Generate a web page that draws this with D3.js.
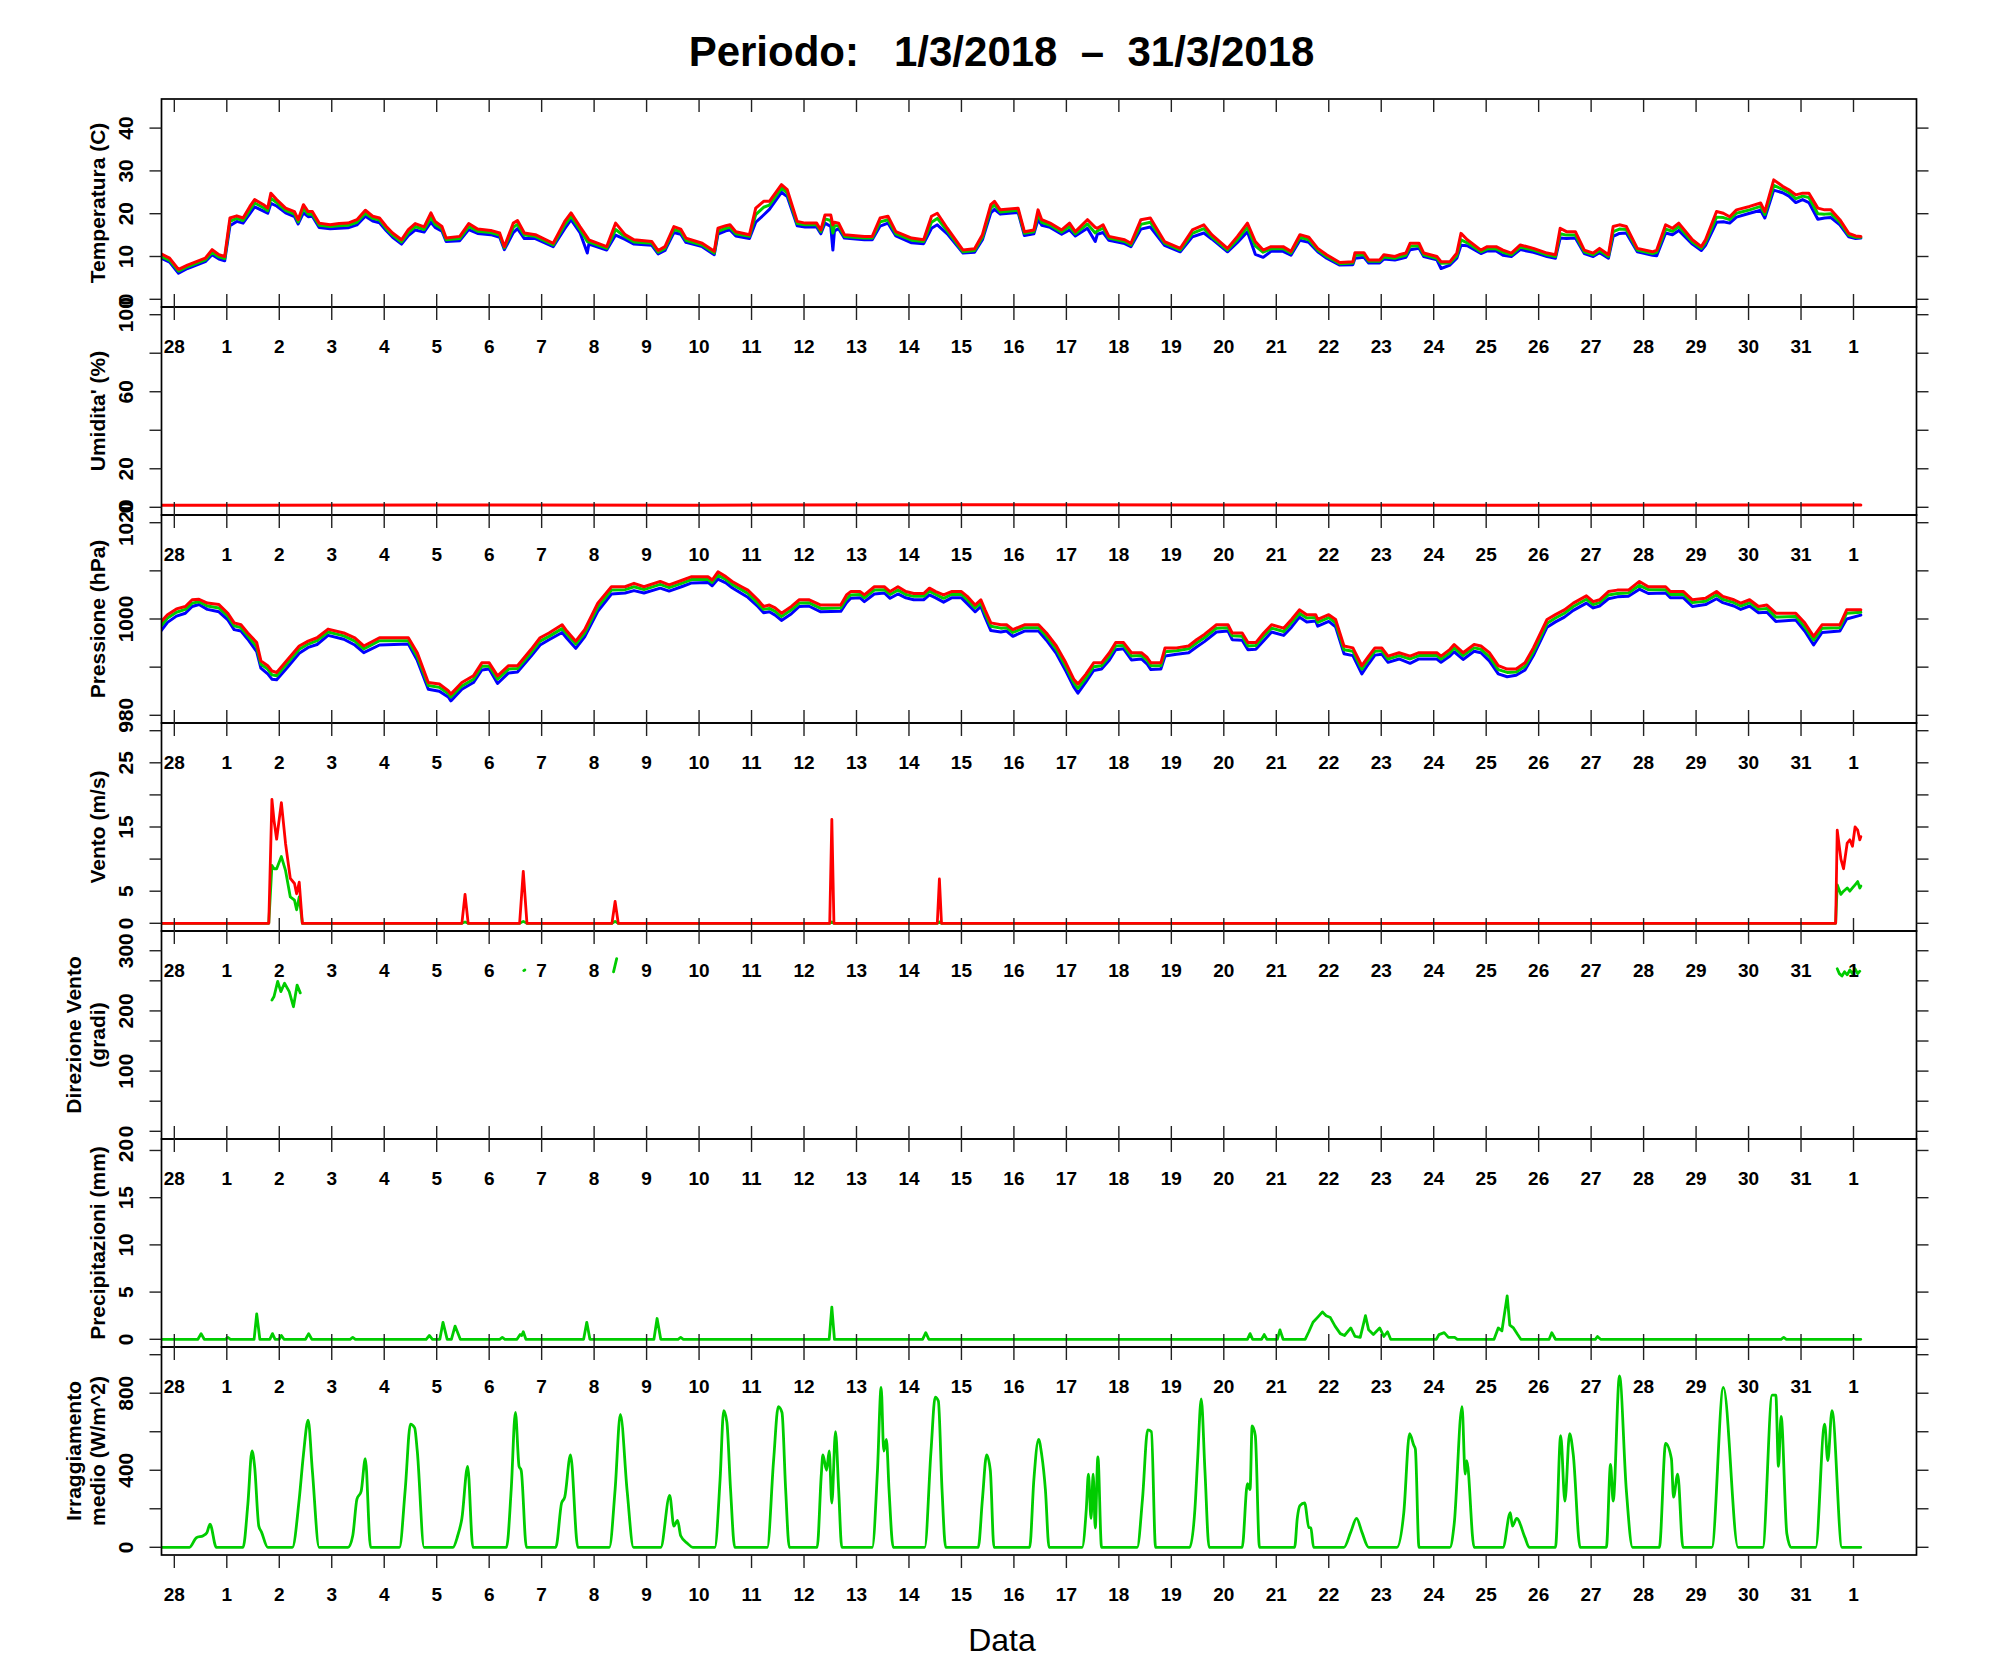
<!DOCTYPE html>
<html><head><meta charset="utf-8">
<script src="https://cdn.jsdelivr.net/npm/d3@7"></script>
<style>
body{margin:0;background:#fff}
svg text{font-family:"Liberation Sans",Arial,Helvetica,sans-serif}
</style></head><body>
<svg id="c" width="1991" height="1680"></svg>
<script>
// ================= DATA (time in days since 1 March 00:00) =================
const dayTicks = d3.range(-1, 32);
const dayLabels = ["28","1","2","3","4","5","6","7","8","9","10","11","12","13","14","15","16","17","18","19","20","21","22","23","24","25","26","27","28","29","30","31","1"];

// --- Temperature (C) ---
const tempTime = [
-1.25,-1.09,-0.92,-0.75,-0.58,-0.41,-0.28,-0.15,-0.04,
0.06,0.19,0.31,0.44,0.53,0.70,0.78,0.84,0.95,
1.12,1.29,1.36,1.46,1.55,1.63,1.76,1.97,
2.14,2.31,2.48,2.64,2.78,2.91,
3.04,3.16,3.33,3.46,3.59,3.76,3.89,3.97,
4.10,4.18,4.44,4.61,4.78,
5.03,5.20,5.29,5.46,5.54,5.67,5.88,
6.22,6.44,6.56,6.73,6.87,6.90,
7.24,7.41,7.59,7.76,
8.10,8.22,8.35,8.52,8.65,8.75,
9.06,9.29,9.36,9.51,9.59,9.70,9.96,
10.08,10.23,10.34,10.57,10.68,10.87,
11.02,11.24,11.32,11.40,11.51,11.55,11.58,11.66,11.77,
12.15,12.30,12.45,12.60,12.75,
13.05,13.28,13.43,13.54,13.73,
14.03,14.25,14.40,14.56,14.63,14.74,
15.08,15.20,15.38,15.46,15.53,15.69,15.91,
16.06,16.17,16.40,16.55,16.59,16.70,16.81,
17.11,17.23,17.42,17.60,17.87,
18.17,18.40,18.62,18.77,
19.07,19.26,19.45,19.60,19.75,19.90,
20.13,20.28,20.45,20.62,20.79,20.96,
21.21,21.46,21.50,21.67,21.76,21.97,
22.05,22.26,22.34,22.47,22.55,22.72,22.81,
23.06,23.14,23.31,23.44,23.52,23.64,23.90,
24.02,24.19,24.32,24.48,24.65,24.90,
25.16,25.32,25.41,25.53,25.70,25.87,
26.04,26.16,26.33,26.42,26.54,26.67,26.88,
27.17,27.25,27.42,27.55,27.67,27.93,
28.10,28.18,28.39,28.52,28.64,28.77,
29.02,29.23,29.31,29.48,29.65,29.77,29.90,
30.03,30.15,30.32,30.45,30.57,30.74,30.91,
31.04,31.14];
const tempMax = [
10.6,9.6,7.0,8.0,8.8,9.6,11.6,10.4,10.0,
19.0,19.5,19.0,21.7,23.3,22.1,21.3,24.8,23.3,
21.3,20.5,18.6,22.1,20.5,20.5,17.8,17.4,
17.7,17.8,18.6,20.8,19.4,19.0,
17.0,15.5,13.9,16.3,17.7,16.9,20.2,18.2,
17.0,14.3,14.7,17.7,16.4,
16.1,15.5,12.3,17.8,18.4,15.5,15.1,
13.1,18.2,20.2,17.0,14.5,13.9,
12.3,17.8,15.1,13.9,
13.5,11.4,12.3,17.0,16.4,14.3,
13.1,11.2,16.6,17.2,17.4,15.8,15.1,
21.3,22.9,22.9,26.8,25.6,18.2,
17.8,17.8,16.2,19.7,19.7,17.4,18.0,17.8,15.1,
14.7,14.7,19.0,19.4,15.8,
14.3,13.9,19.4,20.1,16.6,
11.5,11.8,15.1,22.1,22.9,20.9,
21.3,15.8,16.2,20.9,18.6,17.8,16.2,
17.8,15.8,18.6,16.8,16.6,17.4,14.7,
13.9,13.1,18.6,19.0,13.5,
11.9,16.2,17.4,15.1,
11.9,14.7,17.8,13.5,11.5,12.3,
12.3,11.2,15.1,14.5,11.9,10.4,
8.6,8.8,10.9,10.9,9.2,9.2,
10.4,10.0,10.4,10.8,13.1,13.1,10.8,
10.0,8.8,8.8,10.8,15.4,13.9,11.5,
12.3,12.3,11.5,10.8,12.7,11.9,
10.8,10.4,16.6,15.8,15.8,11.5,
10.8,11.9,10.4,17.0,17.4,17.0,11.9,
11.1,11.5,17.4,16.6,17.8,13.9,
12.3,13.9,20.5,20.1,19.3,20.9,
21.7,22.5,20.5,27.9,26.4,25.6,24.4,
24.8,24.8,21.3,20.9,20.9,18.6,15.4,
14.8,14.7];
const tempMean = [
10.0,9.1,6.6,7.6,8.4,9.2,11.0,9.9,9.5,
18.2,18.9,18.4,20.9,22.5,21.4,20.7,23.6,22.6,
20.8,19.9,18.1,21.2,19.9,19.9,17.3,17.0,
17.2,17.3,18.0,20.1,18.9,18.5,
16.5,15.0,13.4,15.6,17.0,16.3,19.1,17.5,
16.5,13.9,14.2,17.0,15.9,
15.6,15.0,12.0,16.8,17.5,15.0,14.7,
12.7,17.4,19.4,16.3,13.5,13.4,
11.9,16.3,14.6,13.4,
13.1,11.0,11.9,16.3,15.8,13.8,
12.7,10.8,15.9,16.6,16.8,15.3,14.7,
19.8,21.5,22.0,26.0,24.9,17.7,
17.4,17.4,15.8,18.8,18.4,15.5,17.2,17.2,14.7,
14.3,14.3,18.1,18.6,15.3,
13.8,13.5,18.0,18.9,16.0,
11.1,11.4,14.5,21.3,22.0,20.4,
20.8,15.4,15.8,19.9,18.0,17.3,15.7,
17.0,15.3,17.6,15.5,16.0,16.6,14.3,
13.5,12.7,17.5,18.0,13.1,
11.5,15.4,16.5,14.6,
11.5,14.0,16.8,12.5,11.0,11.8,
11.8,10.8,14.5,13.9,11.5,10.0,
8.3,8.5,10.3,10.4,8.9,8.9,
9.9,9.6,9.9,10.3,12.4,12.5,10.4,
9.6,8.4,8.5,10.2,13.9,13.2,11.1,
11.8,11.8,11.0,10.4,12.2,11.5,
10.4,10.0,15.3,15.0,15.0,11.1,
10.4,11.4,10.0,15.8,16.4,16.3,11.5,
10.7,11.0,16.4,15.9,17.0,13.4,
11.9,13.3,19.2,19.1,18.6,20.1,
20.9,21.7,19.8,26.6,25.7,24.9,23.5,
24.1,23.8,20.0,19.9,20.0,18.0,15.0,
14.5,14.5];
const tempMin = [
9.6,8.7,6.1,7.2,8.0,8.8,10.4,9.4,9.0,
17.2,18.2,17.8,20.0,21.6,20.6,20.1,22.4,21.8,
20.2,19.3,17.6,20.2,19.3,19.4,16.8,16.5,
16.6,16.7,17.4,19.4,18.3,17.9,
16.0,14.5,12.9,14.9,16.2,15.7,18.0,16.8,
15.9,13.5,13.7,16.3,15.4,
15.1,14.5,11.6,15.6,16.5,14.2,14.2,
12.3,16.5,18.6,15.6,10.8,12.9,
11.5,15.0,14.0,12.9,
12.6,10.6,11.4,15.6,15.2,13.3,
12.3,10.4,15.2,16.0,16.2,14.8,14.2,
18.0,19.7,21.0,25.0,24.0,17.2,
16.9,16.9,15.3,17.8,17.0,11.5,16.0,16.5,14.3,
13.9,13.9,17.1,17.8,14.8,
13.2,13.0,16.6,17.4,15.3,
10.8,11.0,13.9,20.2,21.0,19.9,
20.3,14.9,15.3,18.6,17.3,16.8,15.2,
16.2,14.8,16.6,13.5,15.2,15.6,13.8,
13.0,12.3,16.4,16.9,12.6,
11.1,14.6,15.5,14.1,
11.1,13.3,15.8,10.5,9.8,11.2,
11.2,10.3,13.8,13.3,11.1,9.6,
8.0,8.1,9.6,9.8,8.5,8.5,
9.4,9.2,9.4,9.8,11.6,11.9,10.0,
9.2,7.2,8.0,9.6,12.6,12.5,10.7,
11.3,11.3,10.3,10.0,11.6,11.0,
10.0,9.6,14.3,14.2,14.3,10.7,
10.0,10.9,9.6,14.7,15.4,15.5,11.1,
10.3,10.2,15.5,15.1,16.1,12.9,
11.4,12.6,18.0,18.1,17.8,19.2,
20.1,20.8,19.0,25.5,24.9,24.1,22.6,
23.3,22.6,18.7,19.0,19.1,17.4,14.6,
14.2,14.3];

// --- Humidity (%) ---
const humTime = [-1.25, 4.0, 9.0, 14.0, 19.0, 24.0, 29.0, 31.14];
const humMax  = [1.0, 1.2, 1.1, 1.3, 1.2, 1.1, 1.2, 1.2];

// --- Pressure (hPa) ---
const presTime = [
-1.25,-1.13,-0.96,-0.79,-0.66,-0.53,-0.37,-0.15,
0.02,0.14,0.27,0.40,0.57,0.65,0.78,0.86,0.95,
1.12,1.38,1.55,1.72,1.93,
2.23,2.44,2.61,2.91,
3.46,3.63,3.84,
4.05,4.22,4.27,4.48,4.70,4.86,
5.00,5.16,5.37,5.54,5.80,5.97,
6.14,6.39,6.48,6.65,6.82,
7.07,7.33,7.59,7.76,7.95,
8.26,8.43,8.69,8.86,
9.17,9.25,9.36,9.51,9.63,9.81,9.93,
10.12,10.23,10.34,10.45,10.57,10.76,10.91,
11.09,11.32,11.70,11.81,11.89,
12.07,12.15,12.34,12.53,12.64,12.79,12.94,
13.09,13.28,13.39,13.51,13.66,13.81,
14.00,14.11,14.26,14.37,14.45,14.56,14.75,14.86,14.98,
15.20,15.47,15.62,15.81,15.99,
16.14,16.22,16.37,16.52,16.67,16.82,16.94,
17.09,17.24,17.43,17.54,17.61,17.80,17.88,
18.10,18.33,18.48,18.63,18.86,
19.08,19.16,19.35,19.46,19.61,19.76,19.91,
20.14,20.29,20.44,20.58,20.75,20.79,
21.00,21.13,21.29,21.46,21.63,21.76,21.88,
22.01,22.13,22.34,22.55,22.72,
23.06,23.14,23.31,23.39,23.56,23.77,23.90,
24.06,24.23,24.40,24.57,24.74,24.90,
25.16,25.32,25.49,25.66,25.91,
26.04,26.16,26.33,26.50,26.71,26.92,
27.09,27.42,27.51,27.76,27.93,
28.18,28.39,28.51,28.72,28.85,
29.02,29.19,29.35,29.52,29.90,
30.07,30.24,30.40,30.74,30.87,
31.14];
const presMax = [
999.5,1000.9,1002.1,1002.6,1004.0,1004.1,1003.3,1003.0,
1001.2,999.2,998.8,997.1,995.1,991.3,990.3,989.2,988.9,
991.1,994.4,995.4,996.1,997.9,
997.1,996.1,994.4,996.1,
996.1,993.0,986.8,
986.5,985.1,984.4,986.8,988.2,990.9,
990.9,988.2,990.3,990.3,993.7,996.1,
997.1,998.8,997.5,995.4,997.8,
1003.3,1006.7,1006.7,1007.4,1006.7,
1007.8,1007.1,1008.1,1008.8,
1008.8,1008.1,1009.8,1008.8,1007.8,1006.7,1006.0,
1004.0,1002.6,1002.9,1002.3,1001.2,1002.6,1004.0,
1004.0,1002.9,1002.9,1005.0,1005.7,
1005.7,1005.0,1006.7,1006.7,1005.7,1006.7,1005.7,
1005.3,1005.3,1006.4,1005.7,1005.0,1005.7,
1005.7,1004.7,1002.9,1004.0,1001.9,999.2,998.8,998.8,997.8,
998.8,998.8,997.1,994.4,990.9,
987.5,986.5,988.5,990.9,990.9,993.0,995.1,
995.1,993.0,993.0,992.0,990.9,990.9,994.0,
994.0,994.4,995.7,996.8,998.8,
998.8,997.1,997.1,995.1,995.1,997.1,998.8,
998.1,999.9,1001.9,1000.9,1000.9,999.9,
1000.9,999.9,994.4,994.0,990.3,992.3,994.0,
994.0,992.3,993.0,992.3,993.0,
993.0,992.3,993.7,994.7,993.0,994.7,994.4,
993.0,990.3,989.6,989.6,990.9,994.0,
999.9,1000.9,1001.9,1003.3,1004.8,
1003.6,1004.0,1005.7,1006.0,1006.0,1007.8,
1006.7,1006.7,1005.7,1005.7,1004.0,
1004.3,1005.7,1004.7,1004.0,1003.3,
1004.0,1002.6,1002.9,1001.2,1001.2,
999.2,996.4,998.8,998.8,1001.9,
1001.9];
const presMean = [
998.6,1000.2,1001.4,1002.0,1003.3,1003.6,1002.7,1002.3,
1000.6,998.6,998.2,996.5,994.2,990.6,989.6,988.4,988.2,
990.4,993.7,994.8,995.5,997.3,
996.5,995.4,993.8,995.5,
995.5,992.2,986.2,
985.8,984.5,983.8,986.1,987.5,990.2,
990.2,987.5,989.6,989.7,993.0,995.4,
996.4,998.0,996.9,994.8,997.1,
1002.5,1006.0,1006.1,1006.7,1006.1,
1007.2,1006.5,1007.5,1008.2,
1008.2,1007.6,1009.1,1008.2,1007.2,1006.1,1005.3,
1003.3,1002.0,1002.2,1001.6,1000.5,1001.9,1003.3,
1003.4,1002.2,1002.3,1004.2,1005.0,
1005.1,1004.4,1006.0,1006.1,1005.1,1006.0,1005.1,
1004.7,1004.7,1005.8,1005.1,1004.3,1005.1,
1005.1,1004.0,1002.3,1003.3,1001.2,998.5,998.1,998.2,997.2,
998.2,998.2,996.4,993.7,990.1,
986.8,985.6,987.7,990.1,990.3,992.3,994.4,
994.5,992.3,992.4,991.4,990.3,990.3,993.2,
993.4,993.8,995.0,996.1,998.1,
998.2,996.5,996.4,994.4,994.5,996.4,998.1,
997.4,999.2,1001.2,1000.2,1000.3,999.3,
1000.3,999.2,993.6,993.3,989.6,991.6,993.3,
993.4,991.7,992.4,991.7,992.4,
992.4,991.7,993.0,994.0,992.4,994.0,993.7,
992.2,989.5,988.9,989.0,990.2,993.2,
999.1,1000.2,1001.2,1002.6,1004.1,
1003.0,1003.4,1005.0,1005.3,1005.4,1007.0,
1006.1,1006.1,1005.1,1005.1,1003.4,
1003.7,1005.0,1004.1,1003.4,1002.7,
1003.4,1002.0,1002.2,1000.4,1000.5,
998.4,995.6,998.1,998.2,1001.2,
1001.4];
const presMin = [
997.6,999.3,1000.6,1001.2,1002.6,1003.0,1002.0,1001.5,
999.8,997.8,997.5,995.8,993.2,989.8,988.6,987.5,987.4,
989.5,992.9,994.1,994.7,996.6,
995.8,994.6,993.0,994.6,
994.8,991.4,985.4,
985.0,983.8,983.0,985.4,986.8,989.4,
989.6,986.6,988.8,989.0,992.3,994.6,
995.7,997.2,996.0,993.9,996.3,
1001.6,1005.2,1005.4,1005.9,1005.4,
1006.4,1005.8,1006.8,1007.5,
1007.6,1006.9,1008.3,1007.5,1006.5,1005.3,1004.5,
1002.6,1001.3,1001.5,1000.8,999.7,1001.1,1002.6,
1002.7,1001.5,1001.6,1003.4,1004.3,
1004.4,1003.6,1005.2,1005.4,1004.3,1005.2,1004.4,
1004.0,1004.0,1005.0,1004.4,1003.5,1004.4,
1004.4,1003.2,1001.5,1002.6,1000.4,997.6,997.3,997.5,996.4,
997.5,997.5,995.6,992.8,989.2,
985.9,984.6,986.9,989.3,989.6,991.5,993.6,
993.8,991.5,991.7,990.6,989.5,989.6,992.3,
992.7,993.0,994.2,995.3,997.3,
997.5,995.7,995.6,993.6,993.7,995.5,997.3,
996.6,998.3,1000.4,999.4,999.6,998.5,
999.5,998.4,992.8,992.4,988.6,990.7,992.5,
992.7,991.0,991.7,990.8,991.7,
991.7,991.0,992.3,993.2,991.6,993.3,993.0,
991.3,988.6,988.0,988.3,989.4,992.4,
998.3,999.4,1000.4,1001.8,1003.3,
1002.3,1002.7,1004.2,1004.6,1004.7,1006.2,
1005.3,1005.4,1004.4,1004.4,1002.6,
1003.0,1004.2,1003.4,1002.7,1002.0,
1002.7,1001.3,1001.4,999.5,999.8,
997.5,994.6,997.2,997.5,1000.0,
1000.8];

// --- Wind speed (m/s) ---
const windTime = [-1.25,0.80,0.86,0.90,0.95,1.04,1.12,1.21,1.29,1.33,1.38,1.44,1.48,
4.48,4.54,4.60,5.58,5.65,5.72,7.34,7.40,7.46,11.49,11.53,11.57,13.54,13.58,13.62,
30.66,30.69,30.76,30.81,30.88,30.93,30.98,31.03,31.08,31.12,31.14];
const windGust = [0,0,19.3,16.0,13.1,18.8,12.4,7.0,6.2,4.6,6.4,0,0,
0,4.5,0,0,8.1,0,0,3.4,0,0,16.2,0,0,6.9,0,
0,14.5,10.0,8.5,12.5,13.0,12.0,15.0,14.5,13.0,13.5];
const windMean = [0,0,9.0,8.5,8.5,10.4,8.2,4.1,3.6,2.1,4.1,0,0,
0,0.2,0,0,0.3,0,0,0.3,0,0,0.2,0,0,0.2,0,
0,6.0,4.5,5.0,5.5,5.0,5.5,6.0,6.5,5.5,5.8];

// --- Wind direction (degrees); null = no data ---
const dirTime = [0.86,0.90,0.97,1.03,1.10,1.19,1.27,1.34,1.40,1.45,
5.66,5.68,5.70, 7.37,7.43,7.46,
30.69,30.73,30.78,30.83,30.88,30.93,30.98,31.03,31.08,31.12];
const dirValue = [218,224,249,232,246,232,207,243,230,null,
267,268,null, 265,287,null,
270,262,258,265,260,268,262,270,262,266];

// --- Precipitation (mm) ---
const rainTime = [-1.25,-0.55,-0.49,-0.43,-0.03,0.02,0.07,0.52,0.57,0.63,0.82,0.87,0.92,1.00,1.04,1.09,
1.50,1.56,1.62,2.35,2.40,2.45,3.80,3.86,3.92,4.06,4.12,4.20,4.28,4.35,4.45,
5.20,5.25,5.30,5.53,5.59,5.62,5.65,5.70,6.80,6.86,6.92,8.14,8.20,8.27,8.60,8.65,8.70,
11.48,11.53,11.58,13.26,13.32,13.38,
19.45,19.50,19.55,19.72,19.77,19.82,20.02,20.07,20.13,
20.55,20.62,20.70,20.80,20.88,20.95,21.03,21.12,21.22,21.30,21.42,21.50,21.60,21.70,21.76,21.85,21.97,22.05,22.12,22.18,
23.05,23.10,23.20,23.28,23.40,23.45,
24.15,24.23,24.30,24.40,24.45,24.52,24.60,24.66,
25.20,25.25,25.32,26.08,26.12,26.18,29.62,29.67,29.72,31.14];
const rainValue = [0,0,0.6,0,0,0.2,0,0,2.7,0,0,0.6,0,0,0.4,0,
0,0.6,0,0,0.2,0,0,0.4,0,0,1.8,0,0,1.4,0,
0,0.2,0,0,0.5,0.4,0.8,0,0,1.8,0,0,2.2,0,0,0.2,0,
0,3.4,0,0,0.7,0,
0,0.6,0,0,0.5,0,0,1.0,0,
0,0.8,1.8,2.4,2.9,2.5,2.3,1.4,0.6,0.4,1.2,0.3,0.2,2.5,1.0,0.5,1.2,0.3,0.8,0,
0,0.5,0.7,0.2,0.2,0,
0,1.2,0.9,4.6,1.5,1.2,0.5,0,
0,0.7,0,0,0.3,0,0,0.2,0,0];

// --- Mean irradiance (W/m^2) ---
const sunTime = [-1.25,-0.71,-0.58,-0.45,-0.38,-0.32,-0.20,
0.31,0.40,0.48,0.53,0.61,0.66,0.78,
1.25,1.38,1.46,1.55,1.63,1.76,
2.31,2.40,2.48,2.56,2.64,2.74,
3.29,3.40,3.50,3.58,3.63,3.76,
4.31,4.40,4.48,4.59,4.69,
5.33,5.42,5.50,5.57,5.61,5.71,
6.27,6.38,6.44,6.55,6.69,
7.29,7.40,7.50,7.63,7.75,
8.27,8.44,8.52,8.59,8.65,8.78,8.88,
9.30,9.40,9.47,9.53,9.60,9.68,
10.30,10.42,10.51,10.58,10.65,10.72,
11.25,11.33,11.36,11.43,11.48,11.53,11.60,11.66,11.72,
12.30,12.40,12.47,12.52,12.57,12.62,12.70,
13.30,13.42,13.50,13.56,13.63,13.70,
14.32,14.40,14.48,14.55,14.62,
15.30,15.38,15.47,15.53,15.60,15.67,
16.30,16.38,16.42,16.47,16.51,16.55,16.60,16.67,
17.35,17.45,17.55,17.62,17.70,
18.35,18.45,18.50,18.57,18.64,18.72,
19.35,19.45,19.50,19.54,19.60,19.68,
20.35,20.40,20.45,20.54,20.62,20.66,20.71,
21.29,21.42,21.53,21.63,21.76,
22.30,22.43,22.54,22.62,22.65,22.72,
23.31,23.39,23.54,23.60,23.63,23.77,
24.32,24.46,24.50,24.58,24.74,24.82,
25.32,25.42,25.50,25.59,25.66,25.79,
26.29,26.37,26.42,26.54,26.67,26.79,
27.30,27.42,27.53,27.57,27.65,27.75,
28.30,28.52,28.80,
29.27,29.45,29.52,29.57,29.62,29.73,29.81,
30.28,30.45,30.51,30.59,30.78,31.14];
const sunValue = [0,0,50,60,75,120,0,
0,220,500,420,110,80,0,
0,250,480,660,400,0,
0,60,250,290,460,0,
0,300,640,620,500,0,
0,60,150,420,0,
0,300,700,420,400,0,
0,230,260,480,0,
0,300,690,290,0,
0,270,110,140,60,20,0,
0,350,710,650,300,0,
0,450,730,700,300,0,
0,380,480,400,500,230,600,300,0,
0,400,830,500,560,300,0,
0,500,780,760,300,0,
0,250,480,400,0,
0,350,560,480,300,0,
0,200,380,150,380,100,470,0,
0,250,610,600,0,
0,200,450,770,400,0,
0,330,300,630,580,0,
0,150,216,230,104,100,0,
0,80,150,80,0,
0,180,590,530,510,0,
0,120,730,380,450,0,
0,180,110,150,50,0,
0,580,240,590,480,0,
0,430,240,890,300,0,
0,540,460,260,380,0,
0,830,0,
0,790,790,420,680,70,0,
0,640,450,710,0,0];

// ================= DRAWING =================
const RED = "#ff0000", GREEN = "#00cc00", BLUE = "#0000ff";
const svg = d3.select("#c");
const L = 161.5, R = 1916.5, TOP = 99, PH = 208, NP = 7;
const x = d3.scaleLinear().domain([0, 31]).range([226.8, 1853.5]);
const padded = (lo, hi) => { const e = (hi - lo) * 0.04; return [lo - e, hi + e]; };

const panels = [
  {title:["Temperatura (C)"], lim:[0,45], ticks:[0,10,20,30,40], labels:[0,10,20,30,40], sw:3,
   series:[{t:tempTime,v:tempMin,c:BLUE},{t:tempTime,v:tempMean,c:GREEN},{t:tempTime,v:tempMax,c:RED}]},
  {title:["Umidita' (%)"], lim:[0,100], ticks:[0,20,40,60,80,100], labels:[0,20,60,100], sw:3,
   series:[{t:humTime,v:humMax,c:RED}]},
  {title:["Pressione (hPa)"], lim:[980,1020], ticks:[980,990,1000,1010,1020], labels:[980,1000,1020], sw:3,
   series:[{t:presTime,v:presMin,c:BLUE},{t:presTime,v:presMean,c:GREEN},{t:presTime,v:presMax,c:RED}]},
  {title:["Vento (m/s)"], lim:[0,30], ticks:[0,5,10,15,20,25,30], labels:[0,5,15,25], sw:2.8,
   series:[{t:windTime,v:windMean,c:GREEN},{t:windTime,v:windGust,c:RED}]},
  {title:["Direzione Vento","(gradi)"], lim:[0,320], ticks:[0,50,100,150,200,250,300], labels:[0,100,200,300], sw:2.8,
   series:[{t:dirTime,v:dirValue,c:GREEN}]},
  {title:["Precipitazioni (mm)"], lim:[0,20.4], ticks:[0,5,10,15,20], labels:[0,5,10,15,20], sw:2.8,
   series:[{t:rainTime,v:rainValue,c:GREEN}]},
  {title:["Irraggiamento","medio (W/m^2)"], lim:[0,1000], ticks:[0,200,400,600,800,1000], labels:[0,400,800], sw:2.8, smooth:true,
   series:[{t:sunTime,v:sunValue,c:GREEN}]}
];

const defs = svg.append("defs");
const gData = svg.append("g");
const gAxes = svg.append("g");

panels.forEach((p, i) => {
  const top = TOP + i * PH, bot = top + PH;
  const y = d3.scaleLinear().domain(padded(p.lim[0], p.lim[1])).range([bot, top]);
  defs.append("clipPath").attr("id", "clip" + i)
    .append("rect").attr("x", L).attr("y", top).attr("width", R - L).attr("height", PH);
  const g = gData.append("g").attr("clip-path", `url(#clip${i})`);
  p.series.forEach(s => {
    const pts = s.t.map((t, k) => [t, s.v[k]]);
    const line = d3.line().defined(d => d[1] !== null).x(d => x(d[0])).y(d => y(d[1]))
      .curve(p.smooth ? d3.curveMonotoneX : d3.curveLinear);
    g.append("path").attr("d", line(pts)).attr("fill", "none")
      .attr("stroke", s.c).attr("stroke-width", p.sw).attr("stroke-linejoin", "round")
      .attr("stroke-linecap", "round");
  });

  // frame
  gAxes.append("rect").attr("x", L).attr("y", top).attr("width", R - L).attr("height", PH)
    .attr("fill", "none").attr("stroke", "#000").attr("stroke-width", 1.7);

  // y ticks left & right
  p.ticks.forEach(v => {
    const yy = y(v);
    gAxes.append("line").attr("x1", L - 12).attr("x2", L).attr("y1", yy).attr("y2", yy)
      .attr("stroke", "#222").attr("stroke-width", 1.4);
    gAxes.append("line").attr("x1", R).attr("x2", R + 12).attr("y1", yy).attr("y2", yy)
      .attr("stroke", "#222").attr("stroke-width", 1.4);
  });
  p.labels.forEach(v => {
    const yy = y(v);
    gAxes.append("text").attr("transform", `translate(133,${yy}) rotate(-90)`)
      .attr("text-anchor", "middle").attr("font-size", 21).attr("font-weight", "bold").text(v);
  });
  // axis title
  const cy = top + PH / 2;
  const tx = p.title.length === 1 ? [105] : [81, 105];
  p.title.forEach((t, k) => {
    gAxes.append("text").attr("transform", `translate(${tx[k]},${cy}) rotate(-90)`)
      .attr("text-anchor", "middle").attr("font-size", 21).attr("font-weight", "bold").text(t);
  });

  // x ticks
  dayTicks.forEach(d => {
    const xx = x(d);
    const y1 = i === 0 ? top : top - 13;
    gAxes.append("line").attr("x1", xx).attr("x2", xx).attr("y1", y1).attr("y2", top + 13)
      .attr("stroke", "#222").attr("stroke-width", 1.4);
    if (i === NP - 1) {
      gAxes.append("line").attr("x1", xx).attr("x2", xx).attr("y1", bot).attr("y2", bot + 13)
        .attr("stroke", "#222").attr("stroke-width", 1.4);
    }
  });
  // day labels below the panel
  dayTicks.forEach((d, k) => {
    gAxes.append("text").attr("x", x(d)).attr("y", bot + 46).attr("text-anchor", "middle")
      .attr("font-size", 19).attr("font-weight", "bold").text(dayLabels[k]);
  });
});

// title and x-axis name
svg.append("text").attr("x", 1001.5).attr("y", 66).attr("text-anchor", "middle")
  .attr("font-size", 42).attr("font-weight", "bold").style("white-space", "pre")
  .text("Periodo:   1/3/2018  \u2013  31/3/2018");
svg.append("text").attr("x", 1002).attr("y", 1651).attr("text-anchor", "middle")
  .attr("font-size", 32).text("Data");
</script>
</body></html>
